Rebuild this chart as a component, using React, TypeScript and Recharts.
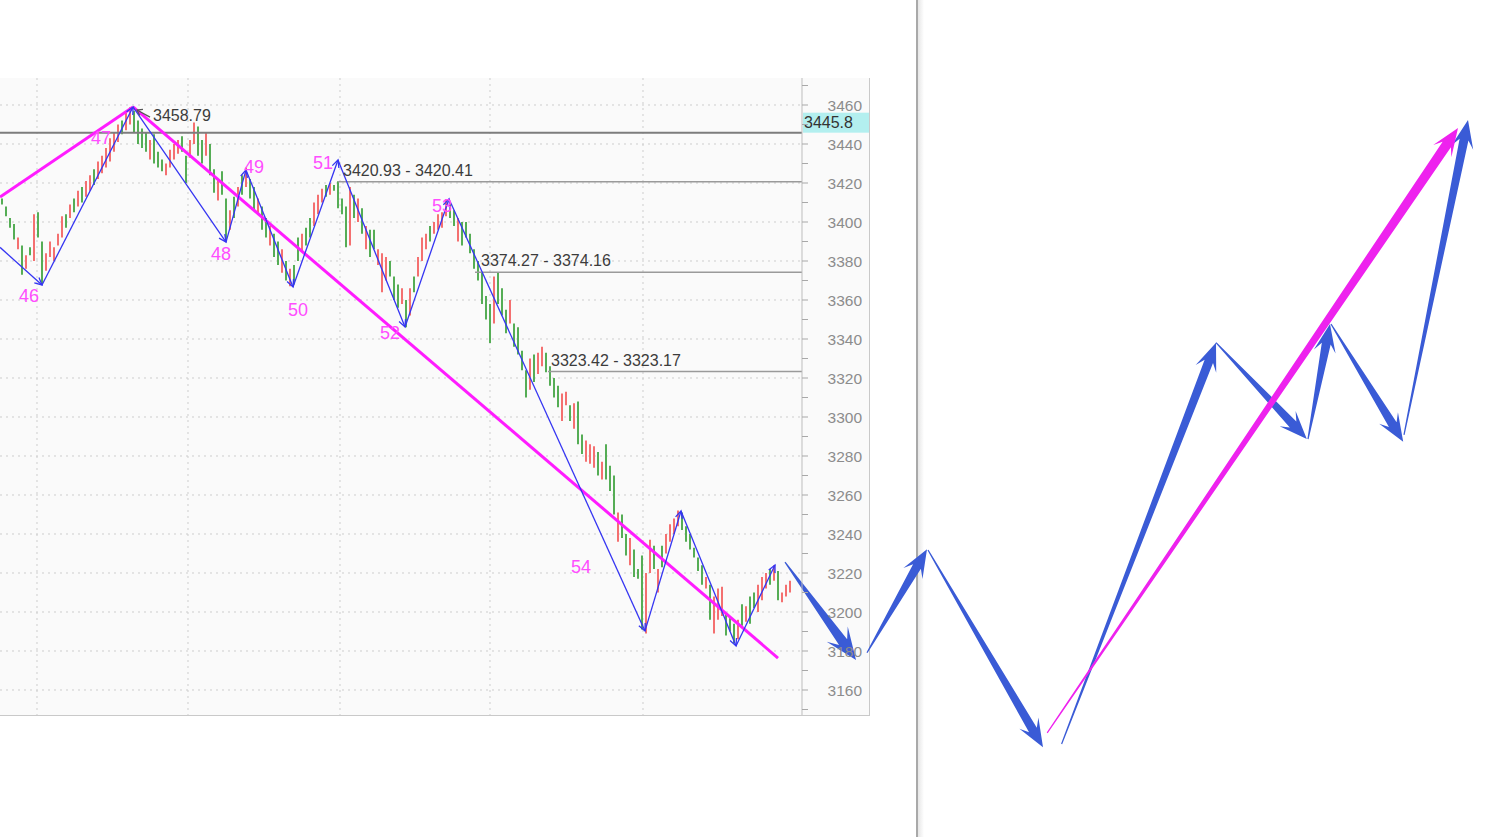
import { ComposedChart, Bar, Cell, XAxis, YAxis, CartesianGrid, ReferenceLine, ReferenceDot } from "recharts";

// one entry per bar, bar index = x value
const lows = [
  3409, 3403, 3397, 3391, 3386, 3373, 3376, 3383, 3380, 3392,
  3368, 3375, 3382, 3380, 3388, 3392, 3397, 3402, 3405, 3408,
  3410, 3413, 3416, 3419, 3422, 3425, 3428, 3431, 3436, 3441,
  3445, 3447, 3450, 3446, 3440, 3438, 3436, 3432, 3430, 3428,
  3426, 3424, 3428, 3432, 3435, 3436, 3420, 3433, 3440, 3434,
  3430, 3434, 3424, 3415, 3411, 3414, 3391, 3396, 3402, 3408,
  3414, 3418, 3412, 3406, 3404, 3396, 3392, 3388, 3382, 3378,
  3374, 3370, 3367, 3368, 3380, 3385, 3388, 3392, 3398, 3404,
  3410, 3413, 3414, 3416, 3407, 3404, 3387, 3388, 3402, 3400,
  3394, 3386, 3382, 3386, 3378, 3364, 3370, 3372, 3360, 3356,
  3358, 3346, 3352, 3364, 3372, 3380, 3386, 3390, 3394, 3396,
  3397, 3403, 3402, 3398, 3390, 3388, 3392, 3384, 3376, 3370,
  3358, 3350, 3338, 3348, 3358, 3352, 3343, 3348, 3336, 3332,
  3324, 3310, 3314, 3318, 3322, 3326, 3323, 3316, 3310, 3305,
  3298, 3306, 3298, 3294, 3286, 3281, 3277, 3276, 3274, 3270,
  3268, 3268, 3262, 3250, 3236, 3238, 3229, 3224, 3218, 3217,
  3191, 3189, 3220, 3222, 3210, 3223, 3230, 3236, 3240, 3244,
  3242, 3236, 3232, 3228, 3221, 3214, 3212, 3196, 3189, 3196,
  3198, 3188, 3190, 3184, 3186, 3193, 3195, 3194, 3202, 3200,
  3206, 3212, 3214, 3216, 3206, 3205, 3208, 3210,
];
const highs = [
  3412, 3408, 3402, 3399, 3392, 3388, 3383, 3387, 3404, 3405,
  3390, 3384, 3390, 3387, 3394, 3403, 3404, 3409, 3412, 3416,
  3418, 3421, 3424, 3427, 3431, 3434, 3438, 3443, 3446, 3450,
  3452, 3456, 3458.8, 3457, 3452, 3448, 3446, 3442, 3445, 3436,
  3432, 3430, 3437, 3440, 3442, 3444, 3434, 3442, 3451, 3449,
  3442, 3446, 3440, 3427, 3422, 3426, 3412, 3406, 3413, 3418,
  3424, 3428, 3422, 3418, 3412, 3408, 3402, 3398, 3394, 3390,
  3386, 3380, 3376, 3378, 3392, 3394, 3397, 3402, 3410, 3414,
  3417, 3419, 3420, 3419, 3420.9, 3412, 3408, 3418, 3414, 3412,
  3407, 3398, 3396, 3396, 3386, 3384, 3382, 3380, 3372, 3368,
  3366, 3360, 3366, 3372, 3382, 3392, 3394, 3398, 3400, 3404,
  3405, 3411.8, 3410, 3406, 3402, 3400, 3400, 3394, 3386, 3380,
  3374, 3362, 3358, 3372, 3374, 3366, 3355, 3360, 3348, 3346,
  3334, 3324, 3330, 3332, 3333, 3336, 3333, 3326, 3320, 3316,
  3312, 3313, 3306, 3307, 3308, 3291, 3288, 3286, 3285, 3282,
  3277, 3286, 3275, 3270, 3251, 3250, 3240, 3238, 3232, 3222,
  3229, 3220, 3237, 3234, 3222, 3234, 3240, 3245, 3248, 3252,
  3251, 3244, 3240, 3233, 3228, 3224, 3218, 3214, 3208, 3212,
  3213, 3199, 3198, 3194, 3196, 3204, 3203, 3208, 3210, 3214,
  3218, 3220, 3222, 3224, 3221, 3210, 3214, 3216,
];
// g = up bar, r = down bar
const barDir = (
  "ggggrgrgrg" + "grrrrrgrgr" + "grrgrrrrrr" + "grrggggrgg" + "grrrrggrrg" +
  "grggrggrgr" + "grggrggrgg" + "rgrggrggrr" + "rgrggggrgr" + "grggrrrggg" +
  "rgrgrrrgrr" + "rrggrggggg" + "gggrgggrgg" + "ggrgrrgggg" + "rrgrggrrrg" +
  "rgggrggrgg" + "grrgrgrrrr" + "ggggggrgrr" + "rgggrgrggr" + "rrgrgrrr"
).split("");

const priceTicks = [3150, 3160, 3170, 3180, 3190, 3200, 3210, 3220, 3230, 3240, 3250, 3260, 3270, 3280, 3290, 3300,
  3310, 3320, 3330, 3340, 3350, 3360, 3370, 3380, 3390, 3400, 3410, 3420, 3430, 3440, 3450, 3460, 3470];
const gridPrices = [3160, 3180, 3200, 3220, 3240, 3260, 3280, 3300, 3320, 3340, 3360, 3380, 3400, 3420, 3440, 3460];
const gridIdx = [8.75, 46.5, 84.5, 122, 160.25];

// zigzag pivots
const zigIdx = [-0.5, 10, 32.75, 56, 61, 72.75, 84, 100.75, 111.75, 160.75, 169.75, 183.5, 193.25];
const zigVal = [3387, 3367.7, 3459, 3389.7, 3426.7, 3366.7, 3431.8, 3346.2, 3411.8, 3190.3, 3251.8, 3182.6, 3224.1];

// wave numbers
const waveNames = ["46", "47", "48", "49", "50", "51", "52", "53", "54"];
const waveIdx = [6.75, 24.75, 54.75, 63, 74, 80.25, 97, 110, 144.75];
const waveVal = [3362.1, 3443.1, 3383.6, 3428.7, 3354.9, 3430.3, 3343.1, 3408.7, 3223.1];

// magenta trend line
const trendIdx = [-0.5, 32.75, 194];
const trendVal = [3412.8, 3459, 3176.4];

const lastPrice = 3445.8;
const peakText = "3458.79";
const peakIdx = 37.75;
const peakVal = 3454.9;

const levelVals = [3420.67, 3374.2, 3323.3];
const levelFrom = [84, 118.25, 136.5];
const levelText = ["3420.93 - 3420.41", "3374.27 - 3374.16", "3323.42 - 3323.17"];
const levelTextIdx = [85.25, 119.75, 137.25];
const levelTextVal = [3426.7, 3380.5, 3329.2];

// hand-drawn forecast arrows [index, price]
const forecastFrom = [
  [195.75, 3225.6], [216.25, 3179.1], [231.5, 3231.8], [264.9, 3132.3],
  [303.5, 3338.1], [326.5, 3288.7], [332.25, 3347.7], [350.5, 3290.8],
];
const forecastTo = [
  [213.5, 3175.4], [231.25, 3232.2], [260.25, 3130.6], [303.5, 3338.1],
  [326.2, 3288.7], [332, 3347.7], [350.3, 3287.3], [366.5, 3452.3],
];
const bigTrendFrom = [261.3, 3138];
const bigTrendTo = [364, 3448.2];

const FONT = "'Liberation Sans', Arial, sans-serif";
const BLUE = "#3a5bd6";

const data = lows.map((lo, i) => ({ i, range: [lo, highs[i]], dir: barDir[i] }));

function taper(x1: number, y1: number, x2: number, y2: number, s: any) {
  const dx = x2 - x1;
  const dy = y2 - y1;
  const L = Math.hypot(dx, dy);
  const ux = dx / L, uy = dy / L, nx = -uy, ny = ux;
  const at = (d: number, w: number) => `${x1 + ux * d + nx * w},${y1 + uy * d + ny * w}`;
  return [
    at(0, s.tail / 2), at(L - s.neck, s.shaft / 2), at(L - s.head, s.barb), at(L, 0),
    at(L - s.head, -s.barb), at(L - s.neck, -s.shaft / 2), at(0, -s.tail / 2),
  ].join(" ");
}

const arrowStyle = { tail: 1.2, shaft: 9, neck: 20, head: 28, barb: 11 };
const firstArrowStyle = { tail: 1.2, shaft: 10, neck: 22, head: 32, barb: 13 };
const trendArrowStyle = { tail: 1.2, shaft: 10, neck: 20, head: 28, barb: 11 };

const zigShape = (p: any) => {
  const { x1, y1, x2, y2 } = p;
  const a = Math.atan2(y2 - y1, x2 - x1);
  const h = 8, sp = 0.45;
  const pts = `${x2 - h * Math.cos(a - sp)},${y2 - h * Math.sin(a - sp)} ${x2},${y2} ${x2 - h * Math.cos(a + sp)},${y2 - h * Math.sin(a + sp)}`;
  return (
    <g>
      <line x1={x1} y1={y1} x2={x2} y2={y2} stroke="#3535f2" strokeWidth={1.3} />
      <polyline points={pts} fill="none" stroke="#3535f2" strokeWidth={1.3} />
    </g>
  );
};

const PriceTick = (props: any) => {
  const { x, y, payload } = props;
  const v = payload.value;
  return (
    <g>
      <line x1={x} x2={x + 6} y1={y} y2={y} stroke="#a8a8a8" />
      {v % 20 === 0 && (
        <text x={x + 60} y={y} dy="0.36em" textAnchor="end" fill="#8c8c8c" fontSize={15.5} fontFamily={FONT}>
          {v}
        </text>
      )}
    </g>
  );
};

export default function App() {
  return (
    <div style={{ position: "absolute", left: 0, top: 0, width: 1499, height: 837, background: "#fff", overflow: "hidden" }}>
      <div style={{ position: "absolute", left: 0, top: 78, width: 869, height: 637, background: "#fafafa", borderRight: "1px solid #c9c9c9", borderBottom: "1px solid #c9c9c9" }} />
      <div style={{ position: "absolute", left: 916, top: 0, width: 2, height: 837, background: "#a9a9a9" }} />
      <div style={{ position: "absolute", left: 918, top: 0, width: 6, height: 837, background: "linear-gradient(to right, #e6e6e6, #ffffff)" }} />
      <div style={{ position: "absolute", left: 0, top: 0 }}>
        <ComposedChart
          width={1499}
          height={837}
          data={data}
          margin={{ top: 78, right: 629, bottom: 122, left: 0 }}
          style={{ fontFamily: FONT }}
        >
          <CartesianGrid
            stroke="#cdcdcd"
            strokeDasharray="2 4"
            horizontalValues={gridPrices}
            verticalValues={gridIdx}
          />
          <XAxis type="number" dataKey="i" domain={[-0.5, 200]} allowDataOverflow hide ticks={gridIdx} />
          <YAxis
            orientation="right"
            type="number"
            domain={[3147.18, 3473.85]}
            allowDataOverflow
            ticks={priceTicks}
            interval={0}
            width={68}
            tickSize={0}
            tickMargin={0}
            tickLine={false}
            axisLine={{ stroke: "#bdbdbd" }}
            tick={<PriceTick />}
          />
          <Bar dataKey="range" barSize={2} isAnimationActive={false}>
            {data.map((d) => (
              <Cell key={d.i} fill={d.dir === "g" ? "#55ad55" : "#f47070"} />
            ))}
          </Bar>

          <ReferenceLine y={lastPrice} stroke="#7d7d7d" strokeWidth={2} />
          {levelVals.map((v, k) => (
            <ReferenceLine
              key={"lv" + k}
              segment={[{ x: levelFrom[k], y: v }, { x: 200, y: v }]}
              stroke="#9a9a9a"
              strokeWidth={1.5}
              ifOverflow="visible"
            />
          ))}

          {trendIdx.slice(1).map((_, k) => (
            <ReferenceLine
              key={"tr" + k}
              segment={[{ x: trendIdx[k], y: trendVal[k] }, { x: trendIdx[k + 1], y: trendVal[k + 1] }]}
              stroke="#ff1cff"
              strokeWidth={3}
              ifOverflow="visible"
            />
          ))}

          {zigIdx.slice(1).map((_, k) => (
            <ReferenceLine
              key={"zz" + k}
              segment={[{ x: zigIdx[k], y: zigVal[k] }, { x: zigIdx[k + 1], y: zigVal[k + 1] }]}
              ifOverflow="visible"
              shape={zigShape}
            />
          ))}

          <ReferenceLine
            segment={[{ x: 37, y: 3453.8 }, { x: 33.75, y: 3457.4 }]}
            ifOverflow="visible"
            shape={(p: any) => {
              const { x1, y1, x2, y2 } = p;
              const a = Math.atan2(y2 - y1, x2 - x1);
              const h = 6;
              return (
                <g stroke="#555" strokeWidth={1.2} fill="none">
                  <line x1={x1} y1={y1} x2={x2} y2={y2} />
                  <polyline
                    points={`${x2 - h * Math.cos(a - 0.6)},${y2 - h * Math.sin(a - 0.6)} ${x2},${y2} ${x2 - h * Math.cos(a + 0.6)},${y2 - h * Math.sin(a + 0.6)}`}
                  />
                </g>
              );
            }}
          />

          {waveNames.map((n, k) => (
            <ReferenceDot
              key={"wn" + k}
              x={waveIdx[k]}
              y={waveVal[k]}
              r={0}
              ifOverflow="visible"
              shape={(p: any) => (
                <text x={p.cx} y={p.cy} dy="0.36em" textAnchor="middle" fill="#ff4dff" fontSize={18} fontFamily={FONT}>
                  {n}
                </text>
              )}
            />
          ))}

          <ReferenceDot
            x={peakIdx}
            y={peakVal}
            r={0}
            ifOverflow="visible"
            shape={(p: any) => (
              <text x={p.cx} y={p.cy} dy="0.36em" fill="#3c3c3c" fontSize={16} fontFamily={FONT}>
                {peakText}
              </text>
            )}
          />
          {levelText.map((t, k) => (
            <ReferenceDot
              key={"lt" + k}
              x={levelTextIdx[k]}
              y={levelTextVal[k]}
              r={0}
              ifOverflow="visible"
              shape={(p: any) => (
                <text x={p.cx} y={p.cy} dy="0.36em" fill="#3c3c3c" fontSize={16} fontFamily={FONT}>
                  {t}
                </text>
              )}
            />
          ))}

          <ReferenceDot
            x={200}
            y={lastPrice}
            r={0}
            ifOverflow="visible"
            shape={(p: any) => (
              <g>
                <rect x={p.cx + 1} y={p.cy - 20} width={66} height={20} fill="#b3efef" />
                <text x={p.cx + 2} y={p.cy - 10} dy="0.36em" fill="#333" fontSize={16} fontFamily={FONT}>
                  {lastPrice}
                </text>
              </g>
            )}
          />

          {forecastFrom.map((f, k) => (
            <ReferenceLine
              key={"fc" + k}
              segment={[{ x: f[0], y: f[1] }, { x: forecastTo[k][0], y: forecastTo[k][1] }]}
              ifOverflow="visible"
              shape={(p: any) => (
                <polygon points={taper(p.x1, p.y1, p.x2, p.y2, k === 0 ? firstArrowStyle : arrowStyle)} fill={BLUE} />
              )}
            />
          ))}
          <ReferenceLine
            segment={[{ x: bigTrendFrom[0], y: bigTrendFrom[1] }, { x: bigTrendTo[0], y: bigTrendTo[1] }]}
            ifOverflow="visible"
            shape={(p: any) => <polygon points={taper(p.x1, p.y1, p.x2, p.y2, trendArrowStyle)} fill="#ee22ee" />}
          />
        </ComposedChart>
      </div>
    </div>
  );
}
